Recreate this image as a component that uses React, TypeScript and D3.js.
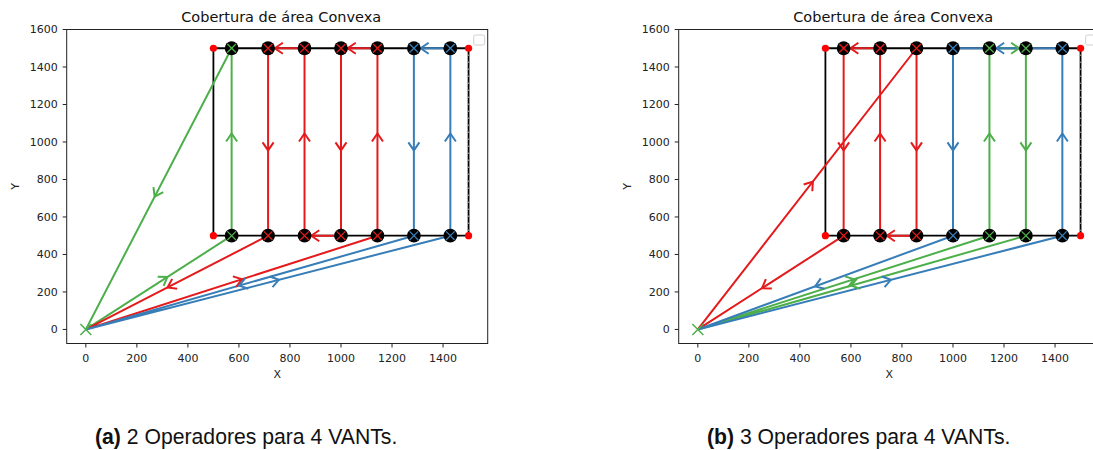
import React from 'react';
import * as d3 from 'd3';

// ---- data ----
const xTicks = [0, 200, 400, 600, 800, 1000, 1200, 1400];
const yTicks = [0, 200, 400, 600, 800, 1000, 1200, 1400, 1600];
const xDomain = [-75, 1575];
const yDomain = [-75, 1600];
const areaCorners: [number, number][] = [[500, 500], [1500, 500], [1500, 1500], [500, 1500]];
const columnX = [571.4, 714.3, 857.1, 1000, 1142.9, 1285.7, 1428.6];
const rowY = [500, 1500];
const origin: [number, number] = [0, 0];

// Panel (a): 2 operators
const greenA: [number, number][] = [[0, 0], [571.4, 500], [571.4, 1500], [0, 0]];
const redA: [number, number][] = [[0, 0], [1142.9, 500], [1142.9, 1500], [1000, 1500], [1000, 500], [857.1, 500], [857.1, 1500], [714.3, 1500], [714.3, 500], [0, 0]];
const blueA: [number, number][] = [[0, 0], [1428.6, 500], [1428.6, 1500], [1285.7, 1500], [1285.7, 500], [0, 0]];
const coverA = ['green', 'red', 'red', 'red', 'red', 'blue', 'blue'];

// Panel (b): 3 operators
const redB: [number, number][] = [[0, 0], [857.1, 1500], [857.1, 500], [714.3, 500], [714.3, 1500], [571.4, 1500], [571.4, 500], [0, 0]];
const greenB: [number, number][] = [[0, 0], [1142.9, 500], [1142.9, 1500], [1285.7, 1500], [1285.7, 500], [0, 0]];
const blueB: [number, number][] = [[0, 0], [1428.6, 500], [1428.6, 1500], [1000, 1500], [1000, 500], [0, 0]];
const coverB = ['red', 'red', 'red', 'blue', 'green', 'green', 'blue'];

const COLORS: Record<string, string> = { red: '#e41a1c', blue: '#377eb8', green: '#4daf4a' };

const TITLE = 'Cobertura de área Convexa';

type Route = { color: string; pts: [number, number][] };

const panels = [
  {
    left: 66.7,
    routes: [
      { color: 'green', pts: greenA },
      { color: 'red', pts: redA },
      { color: 'blue', pts: blueA },
    ] as Route[],
    cover: coverA,
    capX: 95,
    label: '(a)',
    caption: ' 2 Operadores para 4 VANTs.',
  },
  {
    left: 678.7,
    routes: [
      { color: 'red', pts: redB },
      { color: 'green', pts: greenB },
      { color: 'blue', pts: blueB },
    ] as Route[],
    cover: coverB,
    capX: 707,
    label: '(b)',
    caption: ' 3 Operadores para 4 VANTs.',
  },
];

const TOP = 29.5;
const W = 421;
const H = 314;
const FONT = 'DejaVu Sans, sans-serif';

function Panel({ p }: { p: typeof panels[number] }) {
  const x = d3.scaleLinear().domain(xDomain).range([p.left, p.left + W]);
  const y = d3.scaleLinear().domain(yDomain).range([TOP + H, TOP]);
  const line = d3.line<[number, number]>().x((d) => x(d[0])).y((d) => y(d[1]));
  const clipId = `clip-${p.label.replace(/[()]/g, '')}`;

  const arrows: { d: string; color: string }[] = [];
  p.routes.forEach((r) => {
    for (let i = 0; i < r.pts.length - 1; i++) {
      const a = r.pts[i];
      const b = r.pts[i + 1];
      const dx = b[0] - a[0];
      const dy = b[1] - a[1];
      const len = Math.hypot(dx, dy);
      const mx = (a[0] + b[0]) / 2 + (45 * dx) / len;
      const my = (a[1] + b[1]) / 2 + (45 * dy) / len;
      const tx = x(mx);
      const ty = y(my);
      const pdx = x(b[0]) - x(a[0]);
      const pdy = y(b[1]) - y(a[1]);
      const pl = Math.hypot(pdx, pdy);
      const ux = pdx / pl;
      const uy = pdy / pl;
      const back = 8;
      const half = 5.5;
      const w1x = tx - ux * back - uy * half;
      const w1y = ty - uy * back + ux * half;
      const w2x = tx - ux * back + uy * half;
      const w2y = ty - uy * back - ux * half;
      arrows.push({ d: `M${w1x},${w1y}L${tx},${ty}L${w2x},${w2y}`, color: COLORS[r.color] });
    }
  });

  const xMark = (cx: number, cy: number, s: number) =>
    `M${cx - s},${cy - s}L${cx + s},${cy + s}M${cx - s},${cy + s}L${cx + s},${cy - s}`;

  const rectPath = line(areaCorners.concat([areaCorners[0]]) as [number, number][]) || '';

  return (
    <g>
      <defs>
        <clipPath id={clipId}>
          <rect x={p.left} y={TOP} width={W} height={H} />
        </clipPath>
      </defs>
      <rect x={p.left} y={TOP} width={W} height={H} fill="white" />
      <g clipPath={`url(#${clipId})`}>
        {/* surveyed area */}
        <path d={rectPath} fill="none" stroke="black" strokeWidth={1.8} />
        <path
          d={`M${x(areaCorners[1][0])},${y(areaCorners[1][1])}L${x(areaCorners[2][0])},${y(areaCorners[2][1])}`}
          stroke="white"
          strokeWidth={0.8}
          strokeDasharray="1,6"
          strokeDashoffset={-5}
        />
        {areaCorners.map((c, i) => (
          <circle key={i} cx={x(c[0])} cy={y(c[1])} r={3.6} fill="#ff0000" />
        ))}
        {p.routes.map((r, i) => (
          <path key={i} d={line(r.pts) || ''} fill="none" stroke={COLORS[r.color]} strokeWidth={2} strokeLinejoin="round" />
        ))}
        {arrows.map((a, i) => (
          <path key={i} d={a.d} fill="none" stroke={a.color} strokeWidth={2} />
        ))}
        {columnX.map((cx, i) =>
          rowY.map((ry, j) => (
            <g key={`${i}-${j}`}>
              <circle cx={x(cx)} cy={y(ry)} r={6.9} fill="black" />
              <path d={xMark(x(cx), y(ry), 4.3)} stroke={COLORS[p.cover[i]]} strokeWidth={1.3} />
            </g>
          ))
        )}
        <path d={xMark(x(origin[0]), y(origin[1]), 5.5)} stroke={COLORS.green} strokeWidth={1.5} />
        {/* empty legend */}
        <rect x={p.left + W - 14} y={TOP + 5.5} width={11} height={10} rx={2} fill="white" stroke="#d0d0d0" strokeWidth={1} />
      </g>
      {/* frame */}
      <rect x={p.left} y={TOP} width={W} height={H} fill="none" stroke="#222" strokeWidth={1} />
      {/* x axis */}
      {xTicks.map((t) => (
        <g key={t}>
          <line x1={x(t)} x2={x(t)} y1={TOP + H} y2={TOP + H + 4} stroke="#222" strokeWidth={1} />
          <text x={x(t)} y={TOP + H + 18.5} textAnchor="middle" fontFamily={FONT} fontSize={11} fill="#222">
            {t}
          </text>
        </g>
      ))}
      {yTicks.map((t) => (
        <g key={t}>
          <line x1={p.left - 4} x2={p.left} y1={y(t)} y2={y(t)} stroke="#222" strokeWidth={1} />
          <text x={p.left - 9} y={y(t)} dy="0.36em" textAnchor="end" fontFamily={FONT} fontSize={11} fill="#222">
            {t}
          </text>
        </g>
      ))}
      <text x={p.left + W / 2} y={378} textAnchor="middle" fontFamily={FONT} fontSize={11} fill="#222">
        X
      </text>
      <text
        transform={`translate(${p.left - 52},${TOP + H / 2}) rotate(-90)`}
        textAnchor="middle"
        dy="0.36em"
        fontFamily={FONT}
        fontSize={11}
        fill="#222"
      >
        Y
      </text>
      <text x={p.left + W / 2 + 4} y={22} textAnchor="middle" fontFamily={FONT} fontSize={14.5} fill="#111">
        {TITLE}
      </text>
      <text x={p.capX} y={444} fontFamily="Liberation Sans, Arial, sans-serif" fontSize={21.2} fill="#111">
        <tspan fontWeight="bold">{p.label}</tspan>
        <tspan>{p.caption}</tspan>
      </text>
    </g>
  );
}

export default function App() {
  return (
    <svg
      width={1093}
      height={450}
      style={{ position: 'absolute', left: 0, top: 0, background: 'white' }}
      xmlns="http://www.w3.org/2000/svg"
    >
      <rect x={0} y={0} width={1093} height={450} fill="white" />
      {panels.map((p) => (
        <Panel key={p.label} p={p} />
      ))}
    </svg>
  );
}
